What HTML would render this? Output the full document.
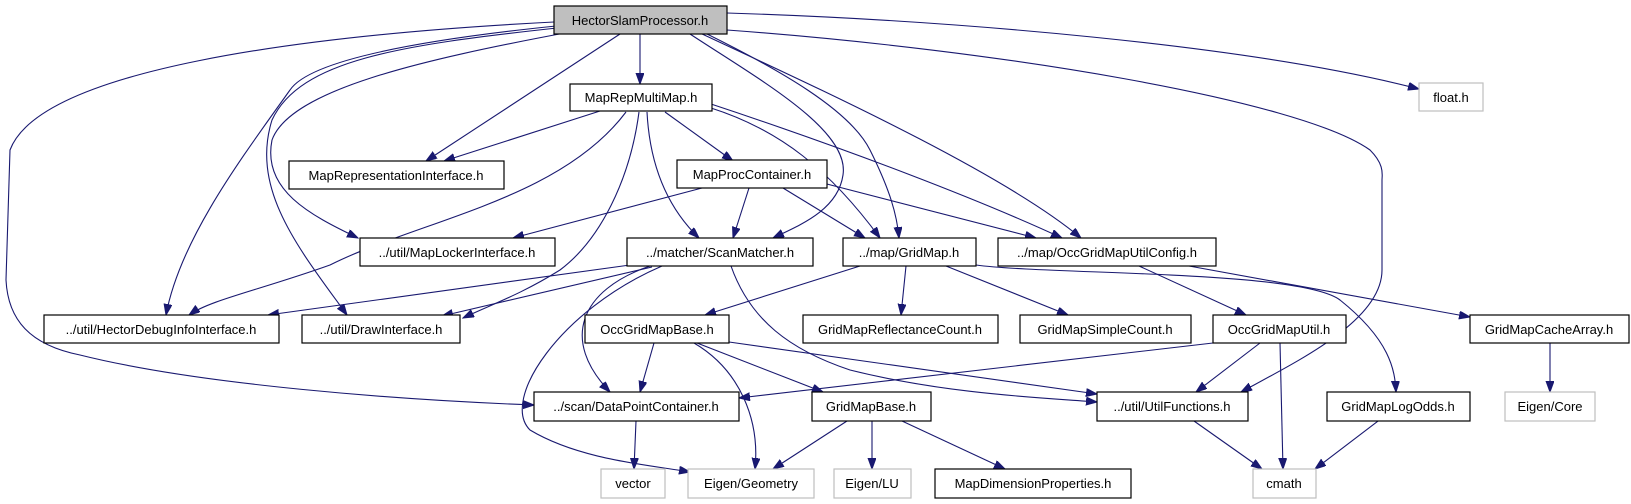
<!DOCTYPE html>
<html><head><meta charset="utf-8"><style>
html,body{margin:0;padding:0;background:#fff;}
svg{display:block;}
text{font-family:"Liberation Sans","DejaVu Sans",sans-serif;font-size:13px;fill:#000;}
.n{fill:#fff;stroke:#000;stroke-width:1.2;}
.g{fill:#fff;stroke:#bfbfbf;stroke-width:1.2;}
.e{fill:none;stroke:#191970;stroke-width:1.1;marker-end:url(#a);}
</style></head><body>
<svg width="1631" height="504" viewBox="0 0 1631 504" xmlns="http://www.w3.org/2000/svg">
<defs><marker id="a" markerUnits="userSpaceOnUse" markerWidth="12" markerHeight="10" refX="11" refY="4" orient="auto"><path d="M0,0 L11,4 L0,8 z" fill="#191970" stroke="#191970"/></marker></defs>
<g>
<path class="e" d="M640,34 L640,84"/>
<path class="e" d="M620,34 L426,161"/>
<path class="e" d="M556,26 C420,40 310,60 290,90 C240,160 180,240 166,315"/>
<path class="e" d="M557,28 C400,45 300,60 272,120 C250,190 300,250 347,315"/>
<path class="e" d="M570,32 C420,60 290,90 272,140 C262,190 310,215 358,238"/>
<path class="e" d="M554,22 C300,35 40,70 10,150 L6,280 C8,320 30,345 80,355 C200,385 400,400 534,405"/>
<path class="e" d="M690,34 C760,80 850,130 843,175 C838,210 800,225 773,238"/>
<path class="e" d="M705,33 C780,70 850,110 870,150 C890,190 897,215 899,238"/>
<path class="e" d="M700,33 C800,80 1000,170 1081,238"/>
<path class="e" d="M727,13 C950,20 1250,45 1419,89"/>
<path class="e" d="M727,30 C1000,50 1300,100 1370,150 C1385,165 1382,175 1382,180 L1382,270 C1382,320 1300,360 1241,392"/>
<path class="e" d="M600,111 L444,161"/>
<path class="e" d="M626,112 C560,200 420,220 330,265 C260,290 210,300 189,315"/>
<path class="e" d="M639,112 C630,180 600,240 560,270 C520,295 490,305 463,318"/>
<path class="e" d="M647,112 C650,170 670,210 699,238"/>
<path class="e" d="M665,112 L733,161"/>
<path class="e" d="M711,108 C780,130 830,170 880,238"/>
<path class="e" d="M711,104 C850,150 980,200 1062,238"/>
<path class="e" d="M702,188 L513,238"/>
<path class="e" d="M749,188 L733,238"/>
<path class="e" d="M783,188 L865,238"/>
<path class="e" d="M823,183 L1036,238"/>
<path class="e" d="M630,265 L268,315"/>
<path class="e" d="M652,267 L442,316"/>
<path class="e" d="M650,266 C580,290 560,340 610,392"/>
<path class="e" d="M662,266 C560,310 500,400 530,430 C580,460 650,465 690,472"/>
<path class="e" d="M731,266 C750,320 790,350 850,370 C950,395 1050,398 1097,402"/>
<path class="e" d="M860,266 L705,315"/>
<path class="e" d="M906,266 L901,315"/>
<path class="e" d="M946,266 L1068,315"/>
<path class="e" d="M976,265 C1050,275 1300,270 1340,300 C1390,340 1395,370 1396,392"/>
<path class="e" d="M1139,266 L1246,315"/>
<path class="e" d="M1189,266 L1470,317"/>
<path class="e" d="M654,343 L640,392"/>
<path class="e" d="M694,343 C740,370 760,420 755,469"/>
<path class="e" d="M697,343 L823,392"/>
<path class="e" d="M729,342 L1097,394"/>
<path class="e" d="M1213,343 L739,398"/>
<path class="e" d="M1260,343 L1196,392"/>
<path class="e" d="M1280,343 L1283,469"/>
<path class="e" d="M1550,343 L1550,392"/>
<path class="e" d="M847,421 L773,469"/>
<path class="e" d="M872,421 L872,469"/>
<path class="e" d="M902,421 L1005,469"/>
<path class="e" d="M636,421 L634,469"/>
<path class="e" d="M1194,421 L1262,469"/>
<path class="e" d="M1378,421 L1315,469"/>
</g>
<g>
<rect x="554" y="6" width="173" height="28" fill="#bfbfbf" stroke="#000" stroke-width="1.2"/><text x="640" y="25" text-anchor="middle">HectorSlamProcessor.h</text>
<rect class="n" x="570" y="84" width="142" height="27"/><text x="641" y="102" text-anchor="middle">MapRepMultiMap.h</text>
<rect class="g" x="1419" y="83" width="64" height="28"/><text x="1451" y="102" text-anchor="middle">float.h</text>
<rect class="n" x="289" y="161" width="215" height="28"/><text x="396" y="180" text-anchor="middle">MapRepresentationInterface.h</text>
<rect class="n" x="677" y="160" width="150" height="28"/><text x="752" y="179" text-anchor="middle">MapProcContainer.h</text>
<rect class="n" x="360" y="238" width="195" height="28"/><text x="457" y="257" text-anchor="middle">../util/MapLockerInterface.h</text>
<rect class="n" x="627" y="238" width="186" height="28"/><text x="720" y="257" text-anchor="middle">../matcher/ScanMatcher.h</text>
<rect class="n" x="843" y="238" width="133" height="28"/><text x="909" y="257" text-anchor="middle">../map/GridMap.h</text>
<rect class="n" x="998" y="238" width="218" height="28"/><text x="1107" y="257" text-anchor="middle">../map/OccGridMapUtilConfig.h</text>
<rect class="n" x="44" y="315" width="235" height="28"/><text x="161" y="334" text-anchor="middle">../util/HectorDebugInfoInterface.h</text>
<rect class="n" x="302" y="315" width="158" height="28"/><text x="381" y="334" text-anchor="middle">../util/DrawInterface.h</text>
<rect class="n" x="585" y="315" width="144" height="28"/><text x="657" y="334" text-anchor="middle">OccGridMapBase.h</text>
<rect class="n" x="803" y="315" width="195" height="28"/><text x="900" y="334" text-anchor="middle">GridMapReflectanceCount.h</text>
<rect class="n" x="1020" y="315" width="171" height="28"/><text x="1105" y="334" text-anchor="middle">GridMapSimpleCount.h</text>
<rect class="n" x="1213" y="315" width="133" height="28"/><text x="1279" y="334" text-anchor="middle">OccGridMapUtil.h</text>
<rect class="n" x="1470" y="315" width="159" height="28"/><text x="1549" y="334" text-anchor="middle">GridMapCacheArray.h</text>
<rect class="n" x="534" y="392" width="205" height="29"/><text x="636" y="411" text-anchor="middle">../scan/DataPointContainer.h</text>
<rect class="n" x="812" y="392" width="119" height="29"/><text x="871" y="411" text-anchor="middle">GridMapBase.h</text>
<rect class="n" x="1097" y="392" width="151" height="29"/><text x="1172" y="411" text-anchor="middle">../util/UtilFunctions.h</text>
<rect class="n" x="1327" y="392" width="143" height="29"/><text x="1398" y="411" text-anchor="middle">GridMapLogOdds.h</text>
<rect class="g" x="1505" y="392" width="90" height="29"/><text x="1550" y="411" text-anchor="middle">Eigen/Core</text>
<rect class="g" x="601" y="469" width="64" height="29"/><text x="633" y="488" text-anchor="middle">vector</text>
<rect class="g" x="688" y="469" width="126" height="29"/><text x="751" y="488" text-anchor="middle">Eigen/Geometry</text>
<rect class="g" x="834" y="469" width="77" height="29"/><text x="872" y="488" text-anchor="middle">Eigen/LU</text>
<rect class="n" x="935" y="469" width="196" height="29"/><text x="1033" y="488" text-anchor="middle">MapDimensionProperties.h</text>
<rect class="g" x="1253" y="469" width="63" height="29"/><text x="1284" y="488" text-anchor="middle">cmath</text>
</g>
</svg>
</body></html>
